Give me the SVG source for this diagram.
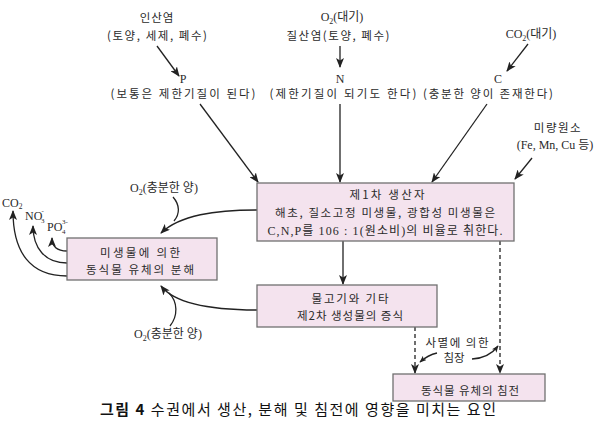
<svg xmlns="http://www.w3.org/2000/svg" width="603" height="442" viewBox="0 0 603 442">
<defs>
<style>
.k{font-family:"Noto Sans CJK KR","Noto Sans",sans-serif;font-size:11.5px;fill:#2a2a2a}
.m{font-family:"Liberation Serif","Noto Sans CJK KR",serif;font-size:12px;fill:#2a2a2a}
.s{font-family:"Liberation Serif",serif;font-size:7px;fill:#2a2a2a}
.box{fill:#f4e3ee;stroke:#707070;stroke-width:1.3}
.ln{fill:none;stroke:#222;stroke-width:1.3}
.dl{fill:none;stroke:#222;stroke-width:1.3;stroke-dasharray:4,3}
</style>
<marker id="ah" viewBox="0 0 10 8" refX="9" refY="4" markerWidth="10" markerHeight="8" markerUnits="userSpaceOnUse" orient="auto"><path d="M0,0 L10,4 L0,8 L2.5,4 z" fill="#222"/></marker>
<marker id="as" viewBox="0 0 10 8" refX="9" refY="4" markerWidth="7" markerHeight="6" markerUnits="userSpaceOnUse" orient="auto"><path d="M0,0 L10,4 L0,8 L2.5,4 z" fill="#222"/></marker>
</defs>
<rect width="603" height="442" fill="#ffffff"/>

<g id="connectors">
<path class="ln" d="M157,46 L179,76" marker-end="url(#ah)"/>
<path class="ln" d="M200,104 L258,182" marker-end="url(#ah)"/>
<path class="ln" d="M340,46 L340,67" marker-end="url(#ah)"/>
<path class="ln" d="M340,104 L340,182" marker-end="url(#ah)"/>
<path class="ln" d="M528,44 L507,71" marker-end="url(#ah)"/>
<path class="ln" d="M487,104 L432,182" marker-end="url(#ah)"/>
<path class="ln" d="M532,158 L515,179" marker-end="url(#ah)"/>
<path class="ln" d="M343,241 L343,284" marker-end="url(#ah)"/>
<path class="dl" d="M500,241 L500,373" marker-end="url(#ah)"/>
<path class="dl" d="M415,327 L415,373" marker-end="url(#ah)"/>
<path class="ln" d="M437,353 Q428,355 420,362" marker-end="url(#as)"/>
<path class="ln" d="M472,359 Q489,358 498,346" marker-end="url(#as)"/>
<path class="ln" d="M257,210 C215,210 180,215 161,233" marker-end="url(#ah)"/>
<path class="ln" d="M173,197 C180,205 180,214 174,221"/>
<path class="ln" d="M257,310 C215,310 176,305 161,286" marker-end="url(#ah)"/>
<path class="ln" d="M170,326 C178,316 178,302 169,293"/>
<path class="ln" d="M67,276 C30,276 13,252 13,211" marker-end="url(#ah)"/>
<path class="ln" d="M67,263 C45,263 33,248 33,226" marker-end="url(#ah)"/>
<path class="ln" d="M67,251 C57,251 52,247 52,238" marker-end="url(#ah)"/>
</g>

<g id="inputs">
<text class="k" x="157" y="22" text-anchor="middle" letter-spacing="1">인산염</text>
<text class="k" x="157" y="40" text-anchor="middle" textLength="100">(토양, 세제, 폐수)</text>
<text class="m" x="183" y="83" text-anchor="middle">P</text>
<text class="k" x="183" y="98" text-anchor="middle" textLength="145">(보통은 제한기질이 된다)</text>
<text class="m" x="342" y="21" text-anchor="middle">O<tspan font-size="8" dy="3">2</tspan><tspan dy="-3">(대기)</tspan></text>
<text class="k" x="338" y="40" text-anchor="middle" textLength="103">질산염(토양, 폐수)</text>
<text class="m" x="340" y="83" text-anchor="middle">N</text>
<text class="k" x="343" y="98" text-anchor="middle" textLength="147">(제한기질이 되기도 한다)</text>
<text class="m" x="531" y="38" text-anchor="middle">CO<tspan font-size="8" dy="3">2</tspan><tspan dy="-3">(대기)</tspan></text>
<text class="m" x="498" y="83" text-anchor="middle">C</text>
<text class="k" x="488" y="98" text-anchor="middle" textLength="130">(충분한 양이 존재한다)</text>
<text class="k" x="558" y="132" text-anchor="middle" letter-spacing="1.5">미량원소</text>
<text class="m" x="555" y="149" text-anchor="middle">(Fe, Mn, Cu 등)</text>
</g>

<g id="producer">
<rect class="box" x="257" y="183" width="257" height="58"/>
<text class="k" x="387" y="199" text-anchor="middle" textLength="75">제1차 생산자</text>
<text class="k" x="385" y="217" text-anchor="middle" textLength="220">해초, 질소고정 미생물, 광합성 미생물은</text>
<text class="m" x="385" y="235" text-anchor="middle" textLength="235">C,N,P를 106 : 1(원소비)의 비율로 취한다.</text>
</g>

<g id="secondary">
<rect class="box" x="257" y="285" width="180" height="42"/>
<text class="k" x="350" y="303" text-anchor="middle" textLength="77">물고기와 기타</text>
<text class="k" x="350" y="320" text-anchor="middle" textLength="106">제2차 생성물의 증식</text>
</g>

<g id="decomposition">
<rect class="box" x="67" y="238" width="150" height="42"/>
<text class="k" x="140" y="257" text-anchor="middle" textLength="80">미생물에 의한</text>
<text class="k" x="140" y="274" text-anchor="middle" textLength="108">동식물 유체의 분해</text>
</g>

<g id="sediment">
<rect class="box" x="393" y="374" width="152" height="27"/>
<text class="k" x="470" y="395" text-anchor="middle" textLength="98">동식물 유체의 침전</text>
</g>

<g id="labels">
<text class="m" x="164" y="192" text-anchor="middle">O<tspan font-size="8" dy="3">2</tspan><tspan dy="-3">(충분한 양)</tspan></text>
<text class="m" x="168" y="338" text-anchor="middle">O<tspan font-size="8" dy="3">2</tspan><tspan dy="-3">(충분한 양)</tspan></text>
<text class="m" x="2" y="207">CO<tspan font-size="7.5" dy="2">2</tspan></text>
<text class="m" x="25" y="220">NO</text>
<text class="s" x="41" y="223">3</text>
<text class="s" x="41.5" y="213">-</text>
<text class="m" x="47" y="231">PO</text>
<text class="s" x="62" y="234">4</text>
<text class="s" x="62" y="224">3-</text>
<text class="k" x="457" y="347" text-anchor="middle" textLength="63">사멸에 의한</text>
<text class="k" x="454" y="362" text-anchor="middle">침장</text>
</g>

<g id="caption">
<text x="100" y="415" style="font-family:'Noto Sans CJK KR',sans-serif;font-size:15px;fill:#111" textLength="396"><tspan font-weight="bold">그림 4</tspan> 수권에서 생산, 분해 및 침전에 영향을 미치는 요인</text>
</g>
</svg>
